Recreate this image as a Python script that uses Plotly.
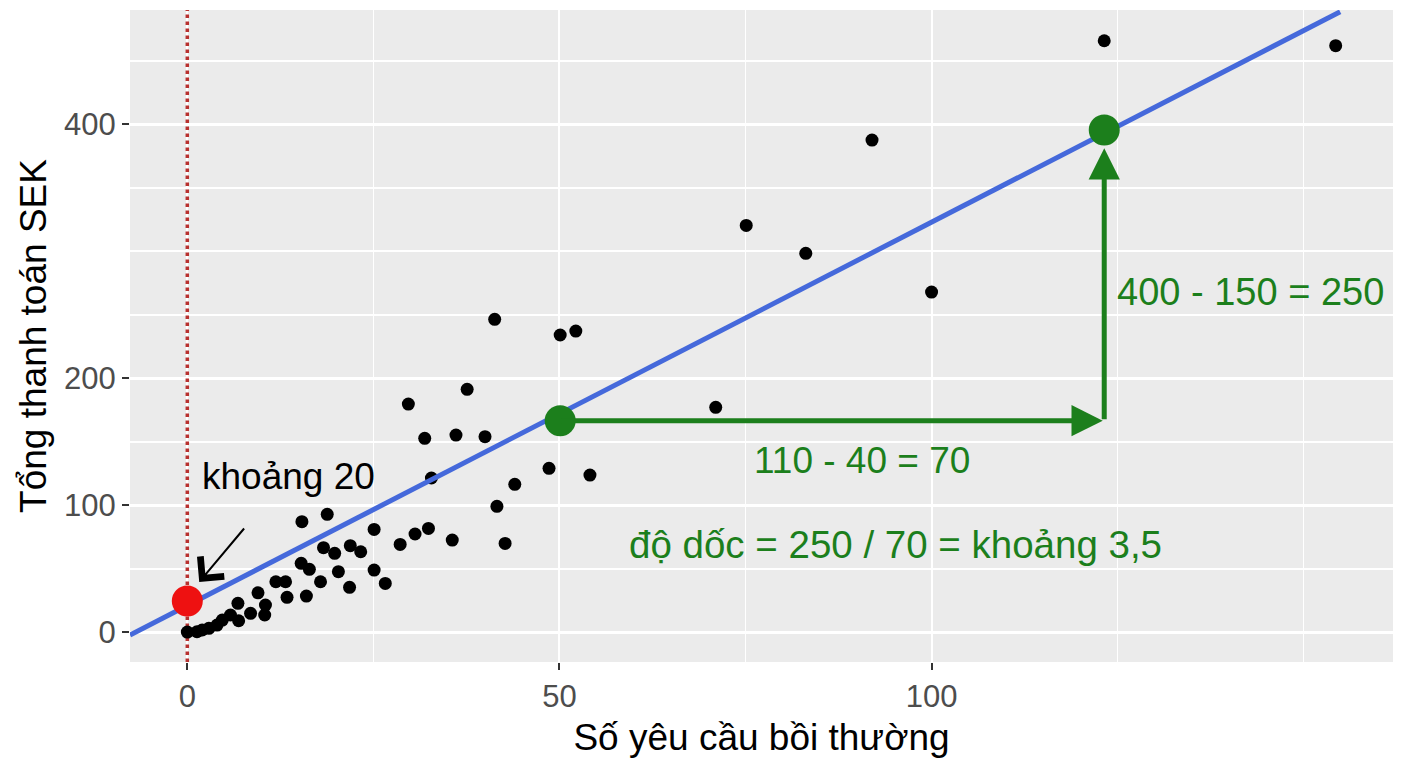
import plotly.graph_objects as go

# Swedish auto insurance: number of claims vs total payment (thousand SEK)
claims = [41.3, 50.1, 52.2, 37.6, 29.7, 31.9, 36.1, 40.0, 32.8, 48.6, 54.1, 44.0,
          41.6, 42.7, 35.6, 32.4, 30.6, 28.6, 25.1, 25.1, 26.6, 21.8, 20.3, 23.3,
          21.9, 19.8, 18.3, 18.8, 15.4, 15.3, 16.4, 17.9, 16.0, 11.9, 13.2, 13.4,
          9.5, 10.5, 10.4, 8.5, 6.8, 6.9, 5.8, 4.7, 4.0, 2.9, 1.3, 0.0, 2.0,
          123.2, 154.3, 92.0, 75.1, 83.1, 100.0, 71.0]
payment = [246.2, 233.9, 237.0, 191.1, 179.5, 152.5, 155.1, 153.8, 121.3, 128.9, 123.6, 116.3,
           99.0, 69.8, 72.4, 81.6, 77.2, 69.0, 80.8, 48.8, 38.3, 35.2, 47.5, 63.2,
           68.0, 62.0, 66.4, 92.7, 86.9, 54.1, 49.4, 39.6, 28.3, 39.6, 39.6, 27.3,
           30.9, 21.3, 13.4, 14.7, 22.6, 8.9, 13.4, 9.4, 5.5, 2.9, 0.2, 0.0, 1.6,
           465.6, 461.7, 387.4, 320.2, 298.2, 267.7, 176.9]

# fitted line, read at both ends of the panel
line_x = [-7.7, 154.9]
line_y = [-2.3, 488.4]

# intercept point and the two slope points
intercept_x, intercept_y = 0.0, 24.4
run_x = [50.1, 123.2]
run_y = [166.4, 395.3]
rise_tip = 381.0

x_range = [-7.7, 162.0]
y_range = [-23.6, 489.8]
x_ticks = [0, 50, 100]
x_minor = [25, 75, 125, 150]
y_ticks = [0, 100, 200, 400]
y_minor = [50, 150, 250, 300, 350, 450]

GREEN = "#1c7f1c"
FONT = "Liberation Sans, Arial, sans-serif"

fig = go.Figure()

# dotted reference line at x = 0
fig.add_trace(go.Scatter(
    x=[intercept_x, intercept_x], y=y_range, mode="lines",
    line=dict(color="#b8312f", dash="dot", width=3.5),
    showlegend=False, hoverinfo="skip",
))

fig.add_trace(go.Scatter(
    x=claims, y=payment, mode="markers",
    marker=dict(color="black", size=13),
    showlegend=False, hoverinfo="skip",
))

fig.add_trace(go.Scatter(
    x=line_x, y=line_y, mode="lines",
    line=dict(color="#4569db", width=5),
    showlegend=False, hoverinfo="skip",
))

fig.add_trace(go.Scatter(
    x=[intercept_x], y=[intercept_y], mode="markers",
    marker=dict(color="#ee1111", size=31),
    showlegend=False, hoverinfo="skip",
))

fig.add_trace(go.Scatter(
    x=run_x, y=run_y, mode="markers",
    marker=dict(color=GREEN, size=31),
    showlegend=False, hoverinfo="skip",
))

# run arrow (horizontal) and rise arrow (vertical)
fig.add_annotation(
    x=run_x[1] - 0.2, y=run_y[0], ax=run_x[0], ay=run_y[0],
    xref="x", yref="y", axref="x", ayref="y",
    showarrow=True, arrowhead=2, arrowsize=1.25, arrowwidth=5,
    arrowcolor=GREEN, standoff=0, text="",
)
fig.add_annotation(
    x=run_x[1], y=rise_tip, ax=run_x[1], ay=run_y[0],
    xref="x", yref="y", axref="x", ayref="y",
    showarrow=True, arrowhead=2, arrowsize=1.25, arrowwidth=5,
    arrowcolor=GREEN, standoff=0, text="",
)

# pointer to the intercept
fig.add_annotation(
    x=1.6, y=39.4, ax=7.8, ay=82.7,
    xref="x", yref="y", axref="x", ayref="y",
    showarrow=True, arrowhead=4, arrowsize=3, arrowwidth=2,
    arrowcolor="black", standoff=0, text="",
)

fig.add_annotation(x=1.75, y=122.8, xref="x", yref="y", text="khoảng 20",
                   showarrow=False, xanchor="left", yanchor="middle",
                   font=dict(size=37, color="black", family=FONT))
fig.add_annotation(x=90.7, y=135.4, xref="x", yref="y", text="110 - 40 = 70",
                   showarrow=False, xanchor="center", yanchor="middle",
                   font=dict(size=37, color=GREEN, family=FONT))
fig.add_annotation(x=124.7, y=267.7, xref="x", yref="y", text="400 - 150 = 250",
                   showarrow=False, xanchor="left", yanchor="middle",
                   font=dict(size=38, color=GREEN, family=FONT))
fig.add_annotation(x=95.2, y=69.3, xref="x", yref="y", text="độ dốc = 250 / 70 = khoảng 3,5",
                   showarrow=False, xanchor="center", yanchor="middle",
                   font=dict(size=38.5, color=GREEN, family=FONT))

fig.update_xaxes(
    range=x_range, tickvals=x_ticks, ticks="outside", ticklen=7,
    tickcolor="#333333", tickwidth=2,
    showgrid=True, gridcolor="white", gridwidth=2, zeroline=False,
    minor=dict(tickvals=x_minor, showgrid=True, gridcolor="white", gridwidth=1.2, ticks=""),
    tickfont=dict(size=31, color="#4d4d4d", family=FONT),
    title=dict(text="Số yêu cầu bồi thường", standoff=10,
               font=dict(size=37, color="black", family=FONT)),
)
fig.update_yaxes(
    range=y_range, tickvals=y_ticks, ticks="outside", ticklen=7,
    tickcolor="#333333", tickwidth=2,
    showgrid=True, gridcolor="white", gridwidth=2.5, zeroline=False,
    minor=dict(tickvals=y_minor, showgrid=True, gridcolor="white", gridwidth=1.5, ticks=""),
    tickfont=dict(size=31, color="#4d4d4d", family=FONT),
    title=dict(text="Tổng thanh toán SEK", standoff=6,
               font=dict(size=37, color="black", family=FONT)),
)

fig.update_layout(
    width=1408, height=768, autosize=False,
    margin=dict(l=130, r=15, t=10, b=106),
    plot_bgcolor="#ebebeb", paper_bgcolor="white",
    font=dict(family=FONT),
)

fig.write_html("out.html", config={"displayModeBar": False},
               post_script="document.body.style.margin='0';")
